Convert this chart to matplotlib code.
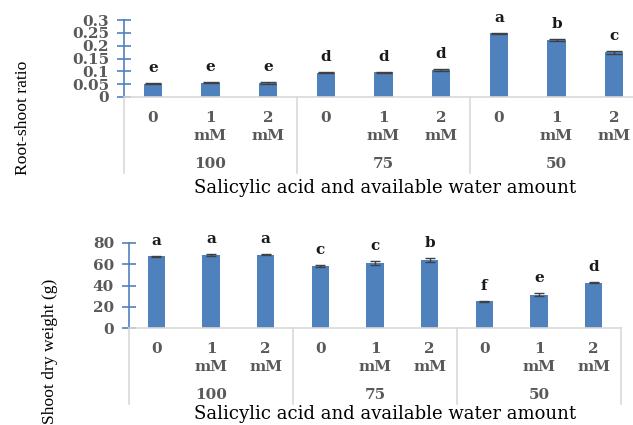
import matplotlib
matplotlib.use("Agg")
import matplotlib.pyplot as plt
from matplotlib.transforms import ScaledTranslation
import numpy as np

# Treatment layout: salicylic acid dose within each available-water level
doses = ["0", "1\nmM", "2\nmM"]
water_levels = ["100", "75", "50"]

# Root-shoot ratio (mean, error, significance letter)
root_shoot = [0.052, 0.055, 0.056, 0.095, 0.096, 0.106, 0.248, 0.223, 0.174]
root_shoot_err = [0.002, 0.002, 0.004, 0.002, 0.003, 0.003, 0.002, 0.004, 0.005]
root_shoot_letters = ["e", "e", "e", "d", "d", "d", "a", "b", "c"]
root_shoot_ticks = [0, 0.05, 0.1, 0.15, 0.2, 0.25, 0.3]
root_shoot_ticklabels = ["0", "0.05", "0.1", "0.15", "0.2", "0.25", "0.3"]

# Shoot dry weight in grams (mean, error, significance letter)
shoot_dw = [67.5, 68.5, 69.0, 58.5, 61.0, 64.0, 25.0, 31.5, 42.5]
shoot_dw_err = [0.7, 0.8, 0.5, 1.0, 2.0, 2.0, 0.6, 1.0, 0.4]
shoot_dw_letters = ["a", "a", "a", "c", "c", "b", "f", "e", "d"]
shoot_dw_ticks = [0, 20, 40, 60, 80]
shoot_dw_ticklabels = ["0", "20", "40", "60", "80"]

xlabel_text = "Salicylic acid and available water amount"

BAR = "#4F81BD"
GRID = "#D9D9D9"
TICKTXT = "#595959"
WIDE = ["DejaVu Serif"]
NARROW = ["Liberation Serif", "DejaVu Serif"]
DPI = 100
W, H = 633, 425

fig = plt.figure(figsize=(W / DPI, H / DPI), dpi=DPI)
fig.patch.set_facecolor("white")


def px2pt(px):
    return px * 72.0 / DPI


def panel(rect_px, values, errs, letters, ticks, ticklabels, ylim, ylabel,
          ylabel_x, ylabel_y, xlabel_y, capsize):
    left, top, right, bottom = rect_px
    ax = fig.add_axes([left / W, 1 - bottom / H, (right - left) / W, (bottom - top) / H])
    hpx = bottom - top
    n = len(values)
    x = np.arange(n)
    ax.bar(x, values, width=0.32, color=BAR, zorder=2)
    ax.errorbar(x, values, yerr=errs, fmt="none", ecolor="#404040",
                elinewidth=1, capsize=capsize, capthick=1, zorder=3)
    ax.set_xlim(-0.5, n - 0.5)
    ax.set_ylim(*ylim)
    ax.set_yticks(ticks)
    ax.set_yticklabels(ticklabels, fontfamily=WIDE, fontweight="bold",
                       fontsize=11, color=TICKTXT)
    ax.set_xticks([])
    for s in ("top", "right"):
        ax.spines[s].set_visible(False)
    ax.spines["left"].set_color(BAR)
    ax.spines["left"].set_linewidth(1.2)
    ax.spines["bottom"].set_color(GRID)
    ax.spines["bottom"].set_linewidth(1.2)
    ax.tick_params(axis="y", direction="inout", length=px2pt(14), width=1.2,
                   color=BAR, pad=px2pt(8))

    # significance letters above each bar
    for xi, v, e, lt in zip(x, values, errs, letters):
        ax.annotate(lt, (xi, v + e), xytext=(0, px2pt(8)), textcoords="offset points",
                    ha="center", va="bottom", fontfamily=WIDE, fontweight="bold",
                    fontsize=11, color="#1a1a1a", annotation_clip=False)

    trans = ax.get_xaxis_transform()
    # dose labels under each bar
    for xi in x:
        off = ScaledTranslation(0, -px2pt(14) / 72.0, fig.dpi_scale_trans)
        ax.text(xi, 0, doses[xi % 3], transform=trans + off, ha="center", va="top",
                fontfamily=WIDE, fontweight="bold", fontsize=11, color=TICKTXT,
                linespacing=1.4)
    # water-level group labels and separators
    for g, lab in enumerate(water_levels):
        off = ScaledTranslation(0, -px2pt(67) / 72.0, fig.dpi_scale_trans)
        ax.text(3 * g + 1, 0, lab, transform=trans + off, ha="center", va="center",
                fontfamily=WIDE, fontweight="bold", fontsize=11, color=TICKTXT)
    for b in range(0, n + 1, 3):
        ax.plot([b - 0.5, b - 0.5], [0, -76 / hpx], transform=trans, color=GRID,
                lw=1.2, clip_on=False, zorder=1)

    fig.text(ylabel_x / W, 1 - ylabel_y / H, ylabel, rotation=90, ha="center",
             va="center", fontfamily=NARROW, fontsize=12.6, color="black")
    fig.text(385 / W, 1 - xlabel_y / H, xlabel_text, ha="center", va="center",
             fontfamily=WIDE, fontsize=13, color="black")
    return ax


panel((124, 20, 643, 97), root_shoot, root_shoot_err, root_shoot_letters,
      root_shoot_ticks, root_shoot_ticklabels, (0, 0.3), "Root-shoot ratio",
      23, 118, 188, 6)
panel((129, 243, 621, 328), shoot_dw, shoot_dw_err, shoot_dw_letters,
      shoot_dw_ticks, shoot_dw_ticklabels, (0, 80), "Shoot dry weight (g)",
      50, 351, 414, 3.5)

fig.savefig("out.png", dpi=DPI)
